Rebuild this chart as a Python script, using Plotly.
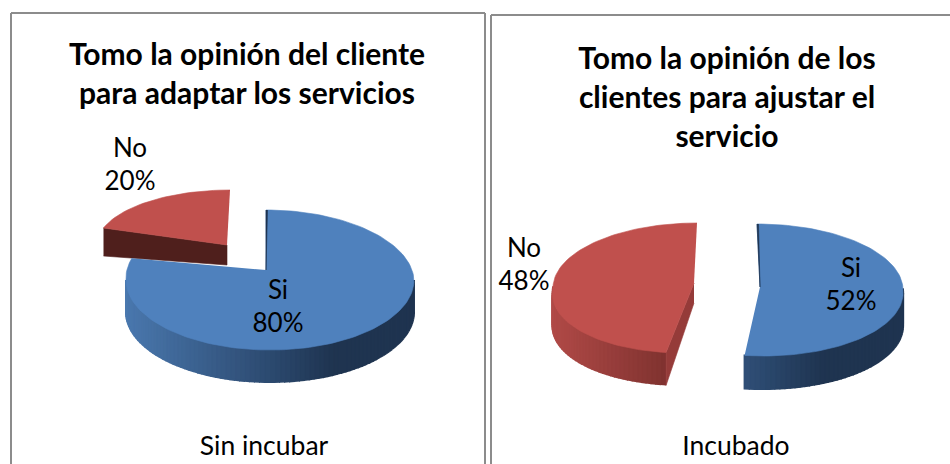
import math
import plotly.graph_objects as go

# ---- data ----
categories = ["Si", "No"]
sin_incubar = [80, 20]
incubado = [52, 48]
chart_titles = ["Tomo la opinión del cliente<br>para adaptar los servicios",
                "Tomo la opinión de los<br>clientes para ajustar el<br>servicio"]
chart_xlabels = ["Sin incubar", "Incubado"]

# ---- styles ----
TOP = {"Si": "#4f81bd", "No": "#c0504d"}
WALL = {"Si": [(0, "#4a78ae"), (.5, "#2c4a70"), (.72, "#1f3450"), (1, "#1f3450")],
        "No": [(0, "#b04a47"), (.45, "#7a2f2d"), (1, "#7a2f2d")]}
FONT = "Lato, Carlito, Calibri, sans-serif"


def hex2(c):
    return [int(c[i:i + 2], 16) for i in (1, 3, 5)]


def ramp(stops, t):
    t = max(0, min(1, t))
    for (a, ca), (b, cb) in zip(stops, stops[1:]):
        if t <= b:
            f = (t - a) / (b - a)
            return "rgb(%d,%d,%d)" % tuple(round(p + (q - p) * f) for p, q in zip(hex2(ca), hex2(cb)))
    return stops[-1][1]


fig = go.Figure()


def poly(xs, ys, color, name, lw=0.6):
    fig.add_trace(go.Scatter(x=xs, y=ys, mode="lines", fill="toself", fillcolor=color,
                             line=dict(color=color, width=lw), hoverinfo="skip",
                             name=name, showlegend=False))


def rim(apex, off, rx, ry, deg, skew=(0, 0)):
    """Point of the perspective ellipse; skew bends the (back, front) halves."""
    a = math.radians(deg)
    dy = -ry * math.cos(a)
    k = skew[1] if dy > 0 else skew[0]
    return apex[0] + off[0] + rx * math.sin(a) + k * dy, apex[1] + off[1] + dy


def slice3d(cat, a0, a1, apex, off, rx, ry, depth, x_ref, wall_w, skew=(0, 0)):
    n = max(8, int(abs(a1 - a0) / 2))
    angs = [a0 + (a1 - a0) * i / n for i in range(n + 1)]
    pts = [rim(apex, off, rx, ry, a, skew) for a in angs]
    # outer wall, as strips
    for (p, q) in zip(pts, pts[1:]):
        if (p[1] + q[1]) / 2 >= apex[1] + off[1] - 1:
            c = ramp(WALL[cat], ((p[0] + q[0]) / 2 - x_ref) / wall_w)
            poly([p[0], q[0], q[0], p[0]], [p[1], q[1], q[1] + depth, p[1] + depth], c, cat, 2)
    return pts


def top(cat, pts, apex):
    poly([apex[0]] + [p[0] for p in pts], [apex[1]] + [p[1] for p in pts], TOP[cat], cat)


def label(x, y, text, size=26, bold=False):
    fig.add_trace(go.Scatter(x=[x], y=[y], mode="text", text=[text], hoverinfo="skip", showlegend=False,
                             textposition="middle center",
                             textfont=dict(family=FONT, size=size, color="#000000",
                                           weight=700 if bold else 400)))


def angles(vals):
    return 360 * vals[0] / sum(vals)


# ---- left chart ----
sw = angles(sin_incubar)
apex_no = (227, 245)
pts_no = [rim(apex_no, (3, 0), 133, 55, a) for a in
          [sw + (360 - sw) * i / 30 for i in range(31)]]
poly([pts_no[0][0], apex_no[0], apex_no[0], pts_no[0][0]],
     [pts_no[0][1], apex_no[1], apex_no[1] + 20, pts_no[0][1] + 28], "#4f1f1c", "No")
top("No", pts_no, apex_no)

apex_si = (266, 270)
pts = slice3d("Si", 0, sw, apex_si, (4, 10), 144, 70, 32, 126, 287, skew=(0.057, 0))
top("Si", pts, apex_si)
poly([pts[0][0], apex_si[0], pts[0][0] + 1.5], [pts[0][1], apex_si[1], pts[0][1]], "#1f3450", "Si")

# ---- right chart ----
sw = angles(incubado)
apex_si = (760, 287)
apex_no = (694, 283)
pts = slice3d("No", sw, 360, apex_no, (3, 5), 144, 65, 32, 553, 282, skew=(0, -0.2))
poly([apex_no[0], pts[0][0], pts[0][0], apex_no[0]],
     [apex_no[1], pts[0][1], pts[0][1] + 33, apex_no[1] + 20], "#953b39", "No")
top("No", pts, apex_no)

pts = slice3d("Si", 0, sw, apex_si, (-3, 3), 146, 66, 33, 617, 286, skew=(0, 0.09))
top("Si", pts, apex_si)
poly([pts[0][0], apex_si[0], pts[0][0] + 1.5], [pts[0][1], apex_si[1], pts[0][1]], "#1f3450", "Si")

# ---- text ----
label(247, 77, chart_titles[0], 30, True)
label(727, 100, chart_titles[1], 30, True)
label(264, 448, chart_xlabels[0], 26.5)
label(736, 448, chart_xlabels[1], 26.5)
label(130, 167, f"{categories[1]}<br>{sin_incubar[1]}%")
label(278, 309, f"{categories[0]}<br>{sin_incubar[0]}%")
label(524, 267, f"{categories[1]}<br>{incubado[1]}%")
label(851, 287, f"{categories[0]}<br>{incubado[0]}%")

frame = dict(type="line", xref="x", yref="y", line=dict(color="#8c8c8c", width=2), layer="above")
shapes = [
    dict(frame, x0=11, x1=485, y0=13, y1=13),
    dict(frame, x0=11, x1=11, y0=13, y1=470),
    dict(frame, x0=485, x1=485, y0=13, y1=470),
    dict(frame, x0=491, x1=950, y0=15, y1=15),
    dict(frame, x0=491, x1=491, y0=15, y1=470),
]

fig.update_layout(
    width=950, height=464, margin=dict(l=0, r=0, t=0, b=0), showlegend=False,
    paper_bgcolor="#ffffff", plot_bgcolor="#ffffff", shapes=shapes,
    xaxis=dict(range=[0, 950], visible=False, fixedrange=True),
    yaxis=dict(range=[464, 0], visible=False, fixedrange=True),
)
fig.write_html("out.html", config={"displayModeBar": False},
               post_script="document.body.style.margin='0';document.body.style.overflow='hidden';")
